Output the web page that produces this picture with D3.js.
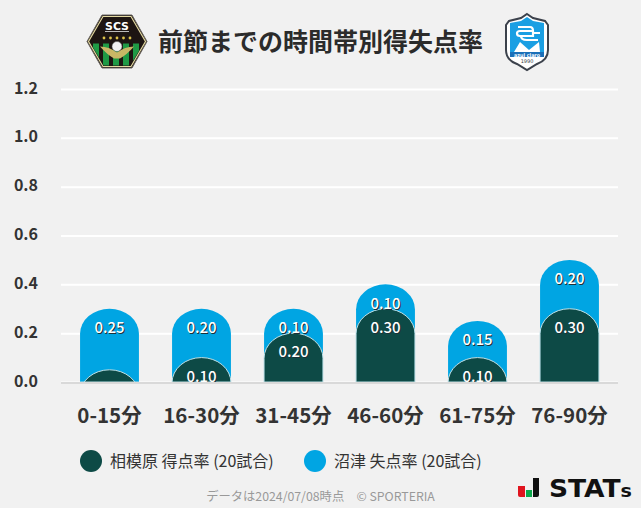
<!DOCTYPE html>
<html>
<head>
<meta charset="utf-8">
<script src="https://cdn.jsdelivr.net/npm/d3@7"></script>
<style>
html, body { margin: 0; padding: 0; background: #f1f1f1; }
svg { display: block; }
text { font-family: "Noto Sans CJK JP", "Noto Sans", sans-serif; }
</style>
</head>
<body>
<script>
var categories = ['0-15分', '16-30分', '31-45分', '46-60分', '61-75分', '76-90分'];
var scored = [0.05, 0.10, 0.20, 0.30, 0.10, 0.30];
var conceded = [0.25, 0.20, 0.10, 0.10, 0.15, 0.20];
var yTicks = [0, 0.2, 0.4, 0.6, 0.8, 1.0, 1.2];
var title = '前節までの時間帯別得失点率';
var legendNames = ['相模原 得点率 (20試合)', '沼津 失点率 (20試合)'];
var note = 'データは2024/07/08時点　© SPORTERIA';

var darkColor = '#0d4a46';
var blueColor = '#00a5e3';
var textColor = '#333333';

var svg = d3.select('body').append('svg')
	.attr('width', 641)
	.attr('height', 508);

svg.append('rect').attr('width', 641).attr('height', 508).attr('fill', '#f1f1f1');

var xScale = d3.scaleBand().domain(categories).range([63.5, 615.5]).paddingInner(0.36).paddingOuter(0.18);
var yScale = d3.scaleLinear().domain([0, 1.2]).range([382, 89]);

// gridlines + y labels
var yAxis = svg.append('g')
	.attr('transform', 'translate(61, 0)')
	.call(d3.axisLeft(yScale).tickValues(yTicks).tickSize(-557).tickFormat(d3.format('.1f')));
yAxis.select('.domain').remove();
yAxis.selectAll('line').attr('stroke', '#ffffff').attr('stroke-width', 2);
yAxis.selectAll('text')
	.attr('x', -23)
	.attr('y', -1)
	.attr('fill', textColor)
	.style('font-size', '16px')
	.style('font-weight', 700);

svg.append('clipPath').attr('id', 'plot-clip')
	.append('rect').attr('x', 61).attr('y', 60).attr('width', 557).attr('height', 322);

// rounded top bar, the corners are elliptical like the original
function barPath(i, value) {
	var x0 = xScale(categories[i]);
	var w = xScale.bandwidth();
	var top = yScale(value);
	var rx = w / 2;
	var ry = 25;
	return 'M' + x0 + ',' + yScale(0) +
		'V' + (top + ry) +
		'A' + rx + ',' + ry + ' 0 0 1 ' + (x0 + w) + ',' + (top + ry) +
		'V' + yScale(0) + 'Z';
}

var plot = svg.append('g').attr('clip-path', 'url(#plot-clip)');

plot.selectAll('.blue-bar').data(categories).enter().append('path')
	.attr('class', 'blue-bar')
	.attr('fill', blueColor)
	.attr('d', function(d, i) { return barPath(i, scored[i] + conceded[i]); });

plot.selectAll('.dark-bar').data(categories).enter().append('path')
	.attr('class', 'dark-bar')
	.attr('fill', darkColor)
	.attr('stroke', '#bfe0e6')
	.attr('stroke-width', 1)
	.attr('d', function(d, i) { return barPath(i, scored[i]); });

function addLabels(values, base) {
	[['#1c3038', 1], ['#ffffff', 0]].forEach(function(layer) {
		plot.selectAll(null).data(categories).enter().append('text')
			.attr('x', function(d) { return xScale(d) + xScale.bandwidth() / 2 + layer[1]; })
			.attr('y', function(d, i) { return yScale(base[i]) + 19 + layer[1]; })
			.attr('dy', '0.35em')
			.attr('text-anchor', 'middle')
			.attr('fill', layer[0])
			.style('font-size', '15px')
			.style('font-weight', 500)
			.text(function(d, i) { return values[i].toFixed(2); });
	});
}
addLabels(conceded, scored.map(function(d, i) { return d + conceded[i]; }));
addLabels(scored, scored);

// baseline
svg.append('line')
	.attr('x1', 61).attr('x2', 618)
	.attr('y1', yScale(0) + 1).attr('y2', yScale(0) + 1)
	.attr('stroke', '#d9d9d9').attr('stroke-width', 2);

// x axis labels
var xAxis = svg.append('g')
	.attr('transform', 'translate(0, ' + yScale(0) + ')')
	.call(d3.axisBottom(xScale).tickSize(0).tickPadding(26));
xAxis.select('.domain').remove();
xAxis.selectAll('text')
	.attr('fill', textColor)
	.style('font-size', '20.5px')
	.style('font-weight', 700);

// title
svg.append('text')
	.attr('x', 320.5).attr('y', 51)
	.attr('text-anchor', 'middle')
	.attr('fill', '#2b2b2b')
	.style('font-size', '25px')
	.style('font-weight', 700)
	.text(title);

// legend
var legendX = [91, 315];
var legendColors = [darkColor, blueColor];
legendNames.forEach(function(name, i) {
	svg.append('circle')
		.attr('cx', legendX[i]).attr('cy', 461).attr('r', 11)
		.attr('fill', legendColors[i]);
	svg.append('text')
		.attr('x', legendX[i] + 19).attr('y', 461)
		.attr('dy', '0.35em')
		.attr('fill', textColor)
		.style('font-size', '16px')
		.text(name);
});

// footer note
svg.append('text')
	.attr('x', 320.5).attr('y', 497)
	.attr('dy', '0.35em')
	.attr('text-anchor', 'middle')
	.attr('fill', '#999999')
	.style('font-size', '12.3px')
	.text(note);

// STATS logo
var stats = svg.append('g');
stats.append('path').attr('d', 'M518,486H525V497H520Q518,497 518,495Z').attr('fill', '#e0141e');
stats.append('path').attr('d', 'M526,490H532V497H526Z').attr('fill', '#0da84c');
stats.append('path').attr('d', 'M533,478H539V495Q539,497 537,497H533Z').attr('fill', '#111111');
stats.append('text')
	.attr('x', 549).attr('y', 497)
	.attr('fill', '#111111')
	.attr('textLength', 83)
	.attr('lengthAdjust', 'spacingAndGlyphs')
	.style('font-family', '"DejaVu Sans"')
	.style('font-size', '25px')
	.style('font-weight', 700)
	.text('STAT')
	.append('tspan')
	.style('font-size', '18px')
	.text('s');

// SCS badge
var scs = svg.append('g').attr('transform', 'translate(117, 41.5)');
var hexInner = 'M-13,-24.5H13L27.5,0L13,24.5H-13L-27.5,0Z';
svg.append('clipPath').attr('id', 'scs-clip').append('path').attr('d', hexInner);
scs.append('path').attr('d', 'M-15,-26.5H15L30,0L15,26.5H-15L-30,0Z').attr('fill', '#1d1512').attr('stroke', '#6b6660').attr('stroke-width', 1);
scs.append('path').attr('d', 'M-14,-25H14L28.5,0L14,25H-14L-28.5,0Z').attr('fill', 'none').attr('stroke', '#e3d9a0').attr('stroke-width', 1.2);
// green stripes in the lower half
var stripes = scs.append('g').attr('clip-path', 'url(#scs-clip)');
[-24, -14, -4, 6, 16].forEach(function(sx) {
	stripes.append('rect')
		.attr('x', sx).attr('y', 2).attr('width', 6).attr('height', 22)
		.attr('fill', '#1f9a45');
});
scs.append('path').attr('d', 'M-17,5Q-8,5 0,11Q8,5 17,5Q10,13 3,17H-3Q-10,13 -17,5Z').attr('fill', '#c9b765');
scs.append('circle').attr('cy', 5).attr('r', 5).attr('fill', '#f2f2f2').attr('stroke', '#555555').attr('stroke-width', 0.5);
[-13, -6.5, 0, 6.5, 13].forEach(function(sx) {
	scs.append('circle').attr('cx', sx).attr('cy', -3.5).attr('r', 1.4).attr('fill', '#dcc24a');
});
scs.append('text')
	.attr('y', -12)
	.attr('text-anchor', 'middle')
	.attr('fill', '#ffffff')
	.attr('textLength', 24)
	.attr('lengthAdjust', 'spacingAndGlyphs')
	.style('font-family', '"DejaVu Sans"')
	.style('font-size', '10px')
	.style('font-weight', 700)
	.text('SCS');
scs.append('line').attr('x1', -12).attr('x2', 12).attr('y1', -10).attr('y2', -10).attr('stroke', '#bbbbbb').attr('stroke-width', 1);

// Azul Claro shield
var azul = svg.append('g').attr('transform', 'translate(527, 42)');
var shield = 'M0,-28L6,-24L18,-21L21,-17V8Q21,18 10,22L0,28L-10,22Q-21,18 -21,8V-17L-18,-21L-6,-24Z';
azul.append('path').attr('d', shield).attr('fill', '#ffffff').attr('stroke', '#3c424c').attr('stroke-width', 2);
// blue field with the two white peaks cut out of it
azul.append('path').attr('d', 'M-17,-19L-6,-21L0,-25L6,-21L17,-19V10H13L12,0L2,8L-7,0L-13,10H-17Z').attr('fill', '#1a9fe3');
azul.append('path').attr('d', 'M-17,10H17V15H-17Z').attr('fill', '#1a6fb8');
azul.append('path').attr('d', 'M-9,-15H3Q6,-15 6,-11V-6H-7Q-10,-6 -10,-8.5Q-10,-11 -7,-11H6M7,-9H13M-6,-6Q-6,-2 0,-2H11')
	.attr('fill', 'none').attr('stroke', '#ffffff').attr('stroke-width', 2.2);
azul.append('text')
	.attr('y', 14.5)
	.attr('text-anchor', 'middle')
	.attr('fill', '#ffffff')
	.attr('textLength', 26)
	.attr('lengthAdjust', 'spacingAndGlyphs')
	.style('font-family', '"DejaVu Sans"')
	.style('font-size', '5px')
	.style('font-weight', 700)
	.text('azul claro');
azul.append('text')
	.attr('y', 21)
	.attr('text-anchor', 'middle')
	.attr('fill', '#333a44')
	.style('font-family', '"DejaVu Sans"')
	.style('font-size', '5px')
	.text('1990');
</script>
</body>
</html>
